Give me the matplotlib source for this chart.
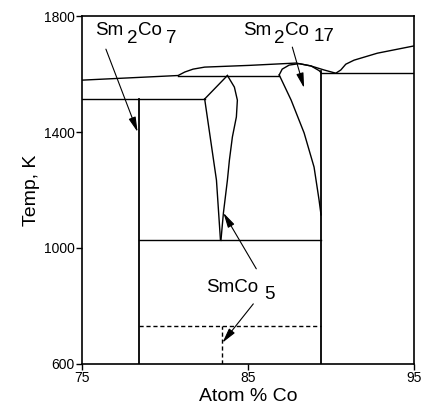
import matplotlib.pyplot as plt

plt.rcParams['font.family'] = ['Liberation Sans', 'DejaVu Sans']

# liquidus (atom % Co, K)
liq_x = [75.0, 80.8, 81.2, 81.7, 82.4, 85.1, 87.9, 88.8, 89.6, 90.3, 90.6, 90.9, 91.4, 92.8, 95.0]
liq_T = [1579, 1595, 1607, 1617, 1624, 1630, 1638, 1628, 1614, 1603, 1614, 1634, 1648, 1672, 1697]

# horizontal invariants
peri_Sm2Co7_x = [75.0, 82.4]
peri_Sm2Co7_T = [1514, 1514]
peri_SmCo5_x = [80.8, 86.9]
peri_SmCo5_T = [1595, 1595]
eut_x = [89.4, 95.0]
eut_T = [1603, 1603]
eutectoid_x = [78.42, 89.41]
eutectoid_T = [1026, 1026]
dashed_x = [78.42, 89.41]
dashed_T = [730, 730]

# compound lines
Sm2Co7_x = [78.42, 78.42]
Sm2Co7_T = [600, 1514]
Sm2Co17_x = [89.41, 89.41]
Sm2Co17_T = [600, 1610]
SmCo5_dash_x = [83.47, 83.47]
SmCo5_dash_T = [600, 730]

# SmCo5 homogeneity range
SmCo5_left_x = [82.4, 83.11, 83.35]
SmCo5_left_T = [1514, 1234, 1028]
SmCo5_top_x = [82.4, 83.77]
SmCo5_top_T = [1514, 1595]
SmCo5_right_x = [83.77, 84.19, 84.37, 84.31, 84.07, 83.89, 83.77, 83.53, 83.38]
SmCo5_right_T = [1595, 1555, 1510, 1452, 1383, 1303, 1234, 1121, 1026]

# Sm2Co17 left boundary and dome
Sm2Co17_left_x = [86.89, 87.61, 88.39, 88.99, 89.29, 89.41]
Sm2Co17_left_T = [1597, 1510, 1397, 1279, 1166, 1114]
dome_x = [86.89, 87.07, 87.49, 88.09, 88.81, 89.29, 89.41]
dome_T = [1597, 1617, 1631, 1636, 1628, 1612, 1605]

fig = plt.figure(figsize=(4.24, 4.13), dpi=100)
ax = fig.add_axes([0.193, 0.119, 0.783, 0.842])

lw = 1.0
ax.plot(liq_x, liq_T, 'k-', lw=lw)
ax.plot(peri_Sm2Co7_x, peri_Sm2Co7_T, 'k-', lw=lw)
ax.plot(peri_SmCo5_x, peri_SmCo5_T, 'k-', lw=lw)
ax.plot(eut_x, eut_T, 'k-', lw=lw)
ax.plot(eutectoid_x, eutectoid_T, 'k-', lw=lw)
ax.plot(dashed_x, dashed_T, 'k--', lw=lw, dashes=(3, 2))
ax.plot(SmCo5_dash_x, SmCo5_dash_T, 'k--', lw=lw, dashes=(3, 2))
ax.plot(Sm2Co7_x, Sm2Co7_T, 'k-', lw=1.3)
ax.plot(Sm2Co17_x, Sm2Co17_T, 'k-', lw=1.3)
ax.plot(SmCo5_left_x, SmCo5_left_T, 'k-', lw=lw)
ax.plot(SmCo5_top_x, SmCo5_top_T, 'k-', lw=lw)
ax.plot(SmCo5_right_x, SmCo5_right_T, 'k-', lw=lw)
ax.plot(Sm2Co17_left_x, Sm2Co17_left_T, 'k-', lw=lw)
ax.plot(dome_x, dome_T, 'k-', lw=lw)


# formula labels: pieces with full-size, lowered subscripts
def formula(x, y, pieces, fs=13.5):
    for txt, dx, dy in pieces:
        ax.annotate(txt, xy=(x, y), xytext=(dx, dy), textcoords='offset pixels',
                    fontsize=fs, va='baseline', ha='left')


formula(75.78, 1734, [('Sm', 0, 0), ('2', 32, -8), ('Co', 43, 0), ('7', 71, -8)])
formula(84.73, 1734, [('Sm', 0, 0), ('2', 31, -8), ('Co', 42, 0), ('17', 70, -6)])
formula(82.51, 848, [('SmCo', 0, 0), ('5', 58, -7)])

arrow = dict(arrowstyle='-|>,head_length=0.9,head_width=0.22', color='k', lw=0.8,
             shrinkA=0, shrinkB=0)
ax.annotate('', xy=(78.36, 1400), xytext=(76.45, 1686), arrowprops=arrow)
ax.annotate('', xy=(88.39, 1552), xytext=(87.68, 1693), arrowprops=arrow)
ax.annotate('', xy=(83.53, 1121), xytext=(85.51, 928), arrowprops=arrow)
ax.annotate('', xy=(83.47, 673), xytext=(85.33, 807), arrowprops=arrow)

ax.set_xlim(75, 95)
ax.set_ylim(600, 1800)
ax.set_xticks([75, 85, 95])
ax.set_yticks([600, 1000, 1400, 1800])
ax.tick_params(direction='out', length=4, width=1, labelsize=10, pad=1)
for s in ax.spines.values():
    s.set_linewidth(1.2)
ax.set_xlabel('Atom % Co', fontsize=14, labelpad=2)
ax.set_ylabel('Temp, K', fontsize=14, labelpad=3)

fig.savefig('out.png', dpi=100)
